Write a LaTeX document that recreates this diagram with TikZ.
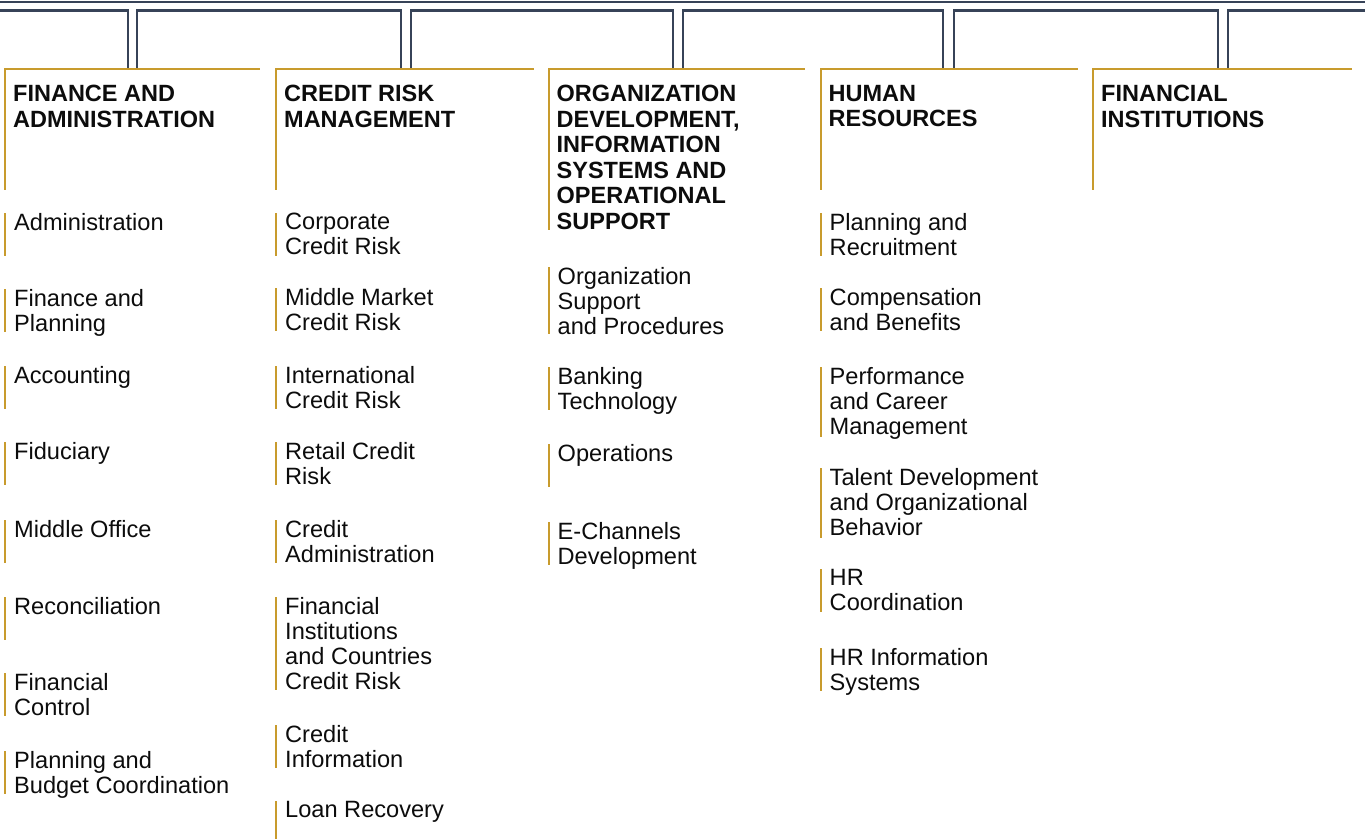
\documentclass[tikz,border=0pt]{standalone}
\usepackage{fontspec}
\setmainfont{Liberation Sans}
\definecolor{bus}{RGB}{55,67,88}
\definecolor{gold}{RGB}{200,155,45}
\definecolor{ink}{RGB}{12,12,12}
\begin{document}
\begin{tikzpicture}[x=1pt,y=-1pt,
  hdr/.style={anchor=north west, inner sep=0pt, align=left, text=ink,
    font=\fontsize{23.5}{25.5}\selectfont\bfseries},
  item/.style={anchor=north west, inner sep=0pt, align=left, text=ink,
    font=\fontsize{23.6}{25}\selectfont},
  busline/.style={draw=bus, line width=2.4pt},
  goldline/.style={draw=gold, line width=1.5pt},
  goldbar/.style={draw=gold, line width=2pt}]
\useasboundingbox (0,0) rectangle (1365,839);

% ---- double bus at the top ----
\draw[busline] (0,2) -- (1365,2);
\draw[busline] (0,10.3) -- (128,10.3) -- (128,69);
\draw[busline] (137,69) -- (137,10.3) -- (401,10.3) -- (401,69);
\draw[busline] (411,69) -- (411,10.3) -- (673,10.3) -- (673,69);
\draw[busline] (683,69) -- (683,10.3) -- (943,10.3) -- (943,69);
\draw[busline] (954,69) -- (954,10.3) -- (1218,10.3) -- (1218,69);
\draw[busline] (1228,69) -- (1228,10.3) -- (1365,10.3);

% ---- header rules ----
\draw[goldline] (4,69) -- (260,69);
\draw[goldline] (275,69) -- (534,69);
\draw[goldline] (548,69) -- (805,69);
\draw[goldline] (820,69) -- (1078,69);
\draw[goldline] (1092,69) -- (1352,69);
\draw[goldbar] (5,68.5) -- (5,190);
\draw[goldbar] (276,68.5) -- (276,190);
\draw[goldbar] (549,68.5) -- (549,230);
\draw[goldbar] (821,68.5) -- (821,190);
\draw[goldbar] (1093,68.5) -- (1093,190);

% ---- headers ----
\node[hdr] (h1) at (13,85) {FINANCE AND\\ADMINISTRATION};
\node[hdr] (h2) at (284,85) {CREDIT RISK\\MANAGEMENT};
\node[hdr] (h3) at (556.5,85) {ORGANIZATION\\DEVELOPMENT,\\INFORMATION\\SYSTEMS AND\\OPERATIONAL\\SUPPORT};
\node[hdr] (h4) at (828.5,85) {HUMAN\\RESOURCES};
\node[hdr] (h5) at (1101,85) {FINANCIAL\\INSTITUTIONS};

% ---- column 1 ----
\draw[goldbar] (5,213) -- (5,256);
\node[item] (a1) at (14,213) {Administration};
\draw[goldbar] (5,289) -- (5,332);
\node[item] (a2) at (14,289) {Finance and\\Planning};
\draw[goldbar] (5,366) -- (5,409);
\node[item] (a3) at (14,366) {Accounting};
\draw[goldbar] (5,442) -- (5,485);
\node[item] (a4) at (14,442) {Fiduciary};
\draw[goldbar] (5,520) -- (5,563);
\node[item] (a5) at (14,520) {Middle Office};
\draw[goldbar] (5,597) -- (5,640);
\node[item] (a6) at (14,597) {Reconciliation};
\draw[goldbar] (5,673) -- (5,716);
\node[item] (a7) at (14,673) {Financial\\Control};
\draw[goldbar] (5,751) -- (5,794);
\node[item] (a8) at (14,751) {Planning and\\Budget Coordination};

% ---- column 2 ----
\draw[goldbar] (276,213) -- (276,256);
\node[item] (b1) at (285,213) {Corporate\\Credit Risk};
\draw[goldbar] (276,288) -- (276,331);
\node[item] (b2) at (285,288) {Middle Market\\Credit Risk};
\draw[goldbar] (276,366) -- (276,409);
\node[item] (b3) at (285,366) {International\\Credit Risk};
\draw[goldbar] (276,442) -- (276,485);
\node[item] (b4) at (285,442) {Retail Credit\\Risk};
\draw[goldbar] (276,520) -- (276,563);
\node[item] (b5) at (285,520) {Credit\\Administration};
\draw[goldbar] (276,597) -- (276,690);
\node[item] (b6) at (285,597) {Financial\\Institutions\\and Countries\\Credit Risk};
\draw[goldbar] (276,725) -- (276,768);
\node[item] (b7) at (285,725) {Credit\\Information};
\draw[goldbar] (276,801) -- (276,839);
\node[item] (b8) at (285,801) {Loan Recovery};

% ---- column 3 ----
\draw[goldbar] (549,267) -- (549,334);
\node[item] (c1) at (557.5,267) {Organization\\Support\\and Procedures};
\draw[goldbar] (549,367) -- (549,410);
\node[item] (c2) at (557.5,367) {Banking\\Technology};
\draw[goldbar] (549,444) -- (549,487);
\node[item] (c3) at (557.5,444) {Operations};
\draw[goldbar] (549,522) -- (549,565);
\node[item] (c4) at (557.5,522) {E-Channels\\Development};

% ---- column 4 ----
\draw[goldbar] (821,213) -- (821,256);
\node[item] (d1) at (829.5,213) {Planning and\\Recruitment};
\draw[goldbar] (821,288) -- (821,331);
\node[item] (d2) at (829.5,288) {Compensation\\and Benefits};
\draw[goldbar] (821,367) -- (821,437);
\node[item] (d3) at (829.5,367) {Performance\\and Career\\Management};
\draw[goldbar] (821,468) -- (821,538);
\node[item] (d4) at (829.5,468) {Talent Development\\and Organizational\\Behavior};
\draw[goldbar] (821,569) -- (821,612);
\node[item] (d5) at (829.5,569) {HR\\Coordination};
\draw[goldbar] (821,648) -- (821,691);
\node[item] (d6) at (829.5,648) {HR Information\\Systems};
\end{tikzpicture}
\end{document}
